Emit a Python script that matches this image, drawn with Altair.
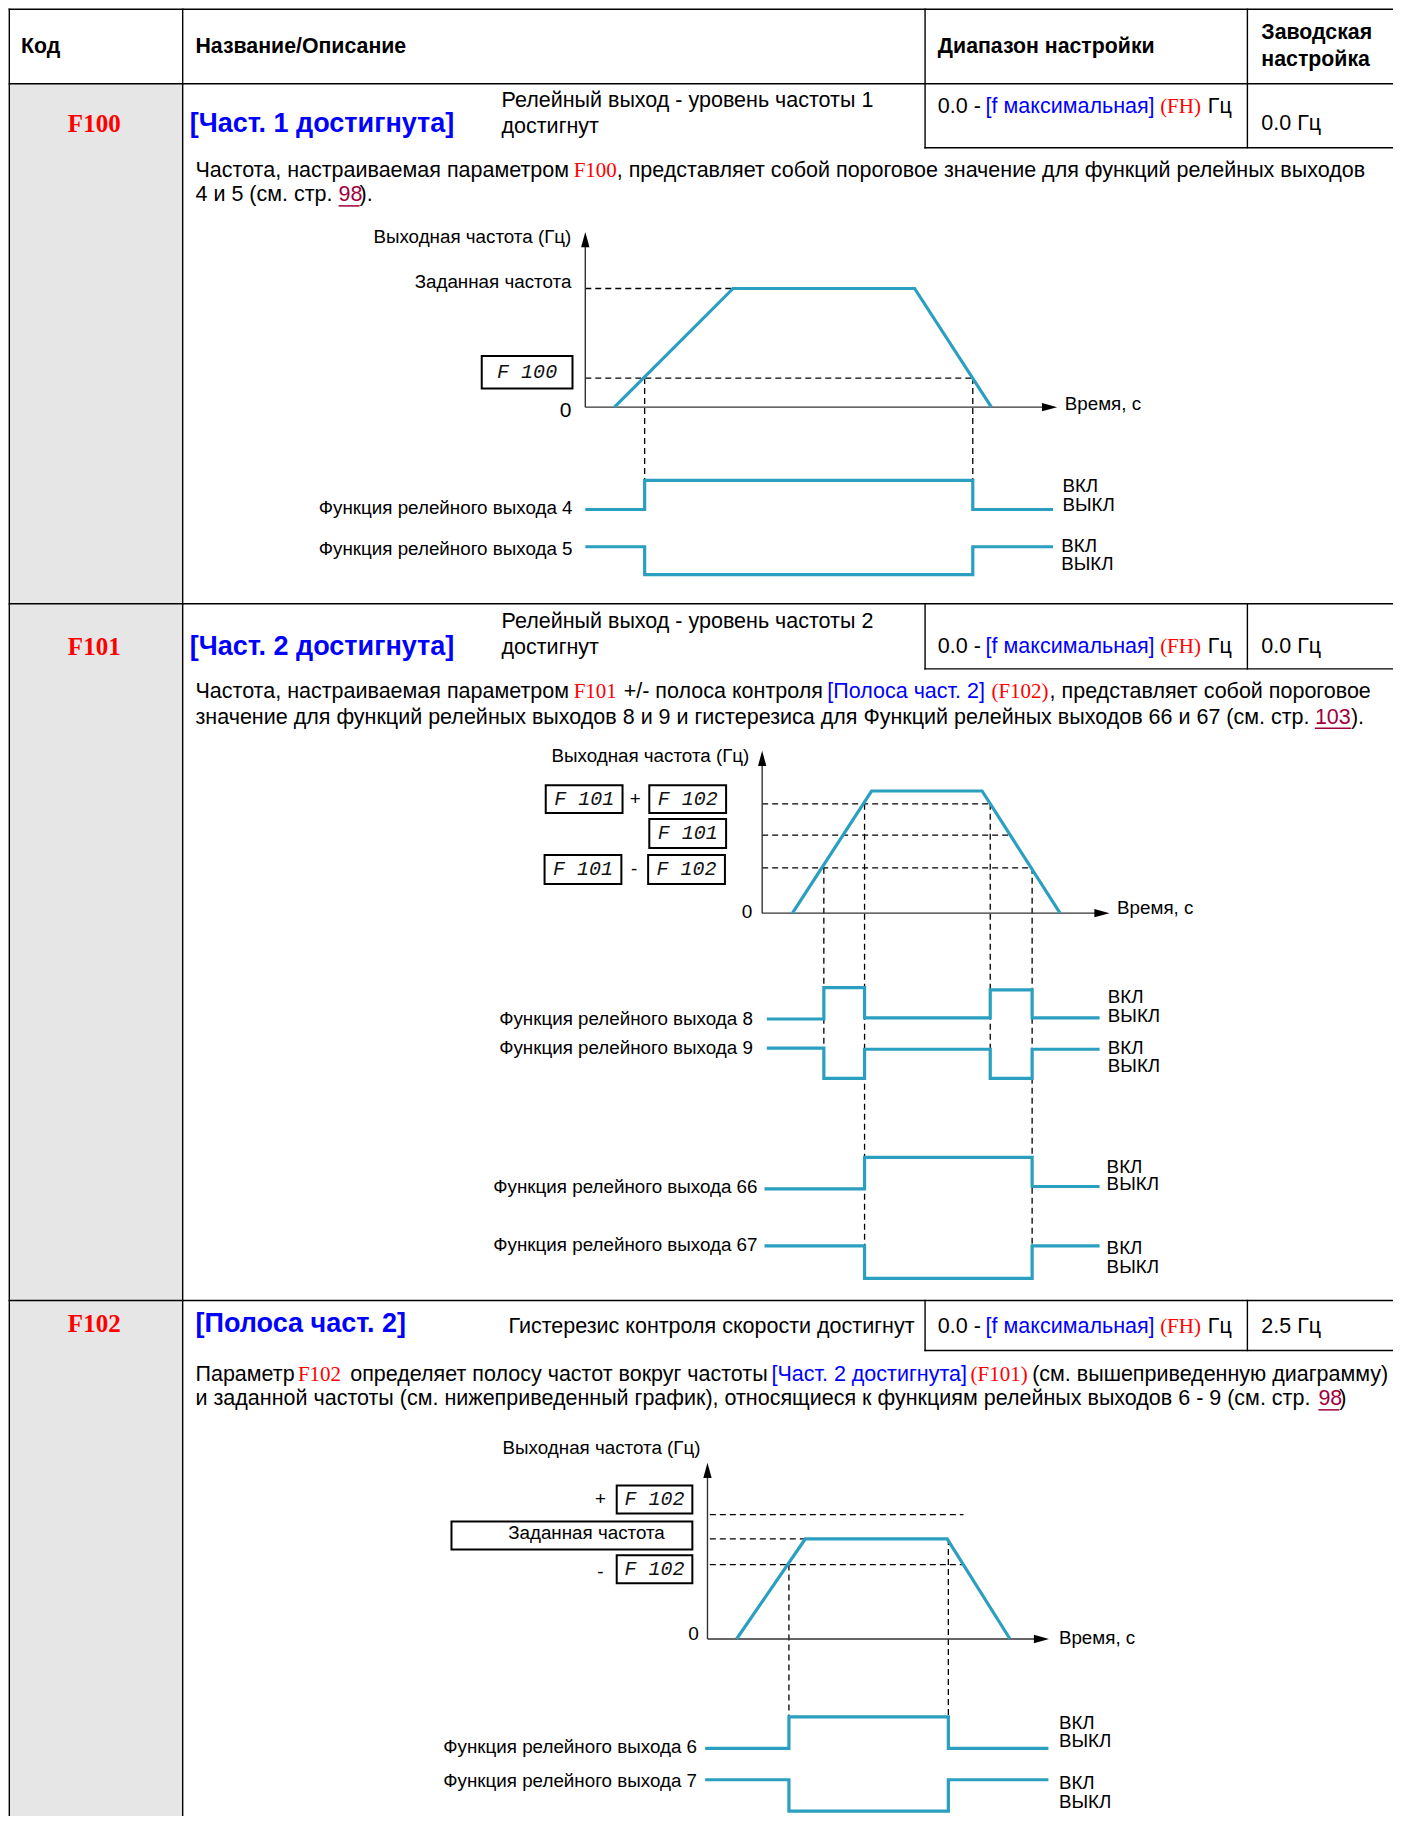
import altair as alt
import pandas as pd

# ------------------------------------------------------------------
# Coordinate space: reference page units (page is 1204 x 1568 units)
# ------------------------------------------------------------------
X_DOM = [6.875, 1197.13]
Y_DOM = [6.877, 1561.15]
W, H = 1385, 1808

TEAL = "#2a9fc0"
BLUE = "#0000ff"
RED = "#ff0000"
LINK = "#a0003c"
GREY = "#e6e6e6"
BLACK = "#000000"

SANS = "Liberation Sans"
SERIF = "Liberation Serif"
MONO = "Liberation Mono"

BODY = 21.5
CHART = 18.8
TITLE = 27
HEAD = 21.3
CODE = 25

# ---------------- table structure -----------------
grey_column = [(8, 72, 157, 1568)]
table_rules = [
    (8, 8, 1204, 8), (8, 72, 1204, 72), (8, 519, 1204, 519), (8, 1118, 1204, 1118),
    (8, 8, 8, 1568), (157, 8, 157, 1568),
    (795, 8, 795, 127), (1072, 8, 1072, 127), (795, 127, 1204, 127),
    (795, 519, 795, 575), (1072, 519, 1072, 575), (795, 575, 1204, 575),
    (795, 1118, 795, 1161), (1072, 1118, 1072, 1161), (795, 1161, 1204, 1161),
]

# ---------------- diagram axes -----------------
axis_rules = [
    (503, 206, 503, 350), (503, 350, 902, 350),      # diagram 1
    (655, 652, 655, 785), (655, 785, 947, 785),      # diagram 2
    (608, 1264, 608, 1409), (608, 1409, 895, 1409),  # diagram 3
]
arrow_up = [(503, 206), (655, 652), (608, 1264)]
arrow_right = [(902, 350), (947, 785), (895, 1409)]

# ---------------- dashed guide lines -----------------
dashed = [
    # diagram 1
    (503, 248, 630, 248), (503, 325, 836, 325),
    (554, 325, 554, 413), (836, 325, 836, 413),
    # diagram 2
    (655, 691, 851, 691), (655, 718, 868, 718), (655, 746, 887, 746),
    (708, 746, 708, 928), (743, 691, 743, 1100),
    (851, 691, 851, 928), (887, 746, 887, 1100),
    # diagram 3
    (610, 1302, 828, 1302), (610, 1323, 692, 1323), (610, 1345, 827, 1345),
    (678, 1345, 678, 1476), (815, 1323, 815, 1476),
]

# ---------------- frequency ramps and relay states -----------------
ramp1_t = [528, 630, 786, 852]
ramp1_f = [350, 248, 248, 350]
relay4_t = [503, 554, 554, 836, 836, 905]
relay4_s = [438, 438, 413, 413, 438, 438]
relay5_t = [503, 554, 554, 836, 836, 905]
relay5_s = [470, 470, 494, 494, 470, 470]

ramp2_t = [681, 749, 844, 911]
ramp2_f = [785, 680, 680, 785]
relay8_t = [659, 708, 708, 743, 743, 851, 851, 887, 887, 945]
relay8_s = [876, 876, 849, 849, 875, 875, 851, 851, 875, 875]
relay9_t = [659, 708, 708, 743, 743, 851, 851, 887, 887, 945]
relay9_s = [901, 901, 927, 927, 902, 902, 927, 927, 902, 902]
relay66_t = [657, 743, 743, 887, 887, 945]
relay66_s = [1022, 1022, 995, 995, 1020, 1020]
relay67_t = [657, 743, 743, 887, 887, 945]
relay67_s = [1071, 1071, 1099, 1099, 1071, 1071]

ramp3_t = [633, 692, 814, 868]
ramp3_f = [1409, 1323, 1323, 1409]
relay6_t = [606, 678, 678, 815, 815, 901]
relay6_s = [1503, 1503, 1476, 1476, 1503, 1503]
relay7_t = [606, 678, 678, 815, 815, 901]
relay7_s = [1530, 1530, 1557, 1557, 1530, 1530]

traces = {
    "ramp1": (ramp1_t, ramp1_f), "r4": (relay4_t, relay4_s), "r5": (relay5_t, relay5_s),
    "ramp2": (ramp2_t, ramp2_f), "r8": (relay8_t, relay8_s), "r9": (relay9_t, relay9_s),
    "r66": (relay66_t, relay66_s), "r67": (relay67_t, relay67_s),
    "ramp3": (ramp3_t, ramp3_f), "r6": (relay6_t, relay6_s), "r7": (relay7_t, relay7_s),
}

# ---------------- parameter display boxes -----------------
boxes = [
    (414, 306, 492, 334),
    (469, 675, 535, 699), (558, 675, 624, 699), (558, 704, 624, 729),
    (468, 735, 534, 760), (557, 735, 623, 760),
    (530, 1277, 595, 1301), (388, 1308, 595, 1332), (530, 1337, 595, 1361),
]
display_text = [
    (453, 320, "F 100"),
    (502, 687, "F 101"), (591, 687, "F 102"), (591, 716, "F 101"),
    (501, 747, "F 101"), (590, 747, "F 102"),
    (562.5, 1289, "F 102"), (562.5, 1349, "F 102"),
]

# ---------------- texts -----------------
# bold sans, left: (x, y, text, colour, size)
bold_texts = [
    (18, 40, "Код", BLACK, HEAD),
    (168, 40, "Название/Описание", BLACK, HEAD),
    (806, 40, "Диапазон настройки", BLACK, HEAD),
    (1084, 28, "Заводская", BLACK, HEAD),
    (1084, 52, "настройка", BLACK, HEAD),
    (163, 107, "[Част. 1 достигнута]", BLUE, TITLE),
    (163, 556, "[Част. 2 достигнута]", BLUE, TITLE),
    (168, 1138, "[Полоса част. 2]", BLUE, TITLE),
]
codes = [(81, 107, "F100"), (81, 556, "F101"), (81, 1138, "F102")]

plain_texts = [
    # row F100
    (431, 87, "Релейный выход - уровень частоты 1", BLACK, BODY),
    (431, 109, "достигнут", BLACK, BODY),
    (806, 92, "0.0 -", BLACK, BODY), (847, 92, "[f максимальная]", BLUE, BODY),
    (1038, 92, "Гц", BLACK, BODY),
    (1084, 107, "0.0 Гц", BLACK, BODY),
    (168, 147, "Частота, настраиваемая параметром", BLACK, BODY),
    (530, 147, ", представляет собой пороговое значение для функций релейных выходов", BLACK, BODY),
    (168, 168, "4 и 5 (см. стр.", BLACK, BODY),
    (291, 168, "98", LINK, BODY), (309, 168, ").", BLACK, BODY),
    # row F101
    (431, 535, "Релейный выход - уровень частоты 2", BLACK, BODY),
    (431, 557, "достигнут", BLACK, BODY),
    (806, 556, "0.0 -", BLACK, BODY), (847, 556, "[f максимальная]", BLUE, BODY),
    (1038, 556, "Гц", BLACK, BODY),
    (1084, 556, "0.0 Гц", BLACK, BODY),
    (168, 595, "Частота, настраиваемая параметром", BLACK, BODY),
    (536, 595, "+/- полоса контроля", BLACK, BODY),
    (711, 595, "[Полоса част. 2]", BLUE, BODY),
    (902, 595, ",  представляет собой  пороговое", BLACK, BODY),
    (168, 617, "значение для функций релейных выходов 8 и 9 и гистерезиса для Функций релейных выходов 66 и 67 (см. стр.", BLACK, BODY),
    (1130, 617, "103", LINK, BODY), (1161, 617, ").", BLACK, BODY),
    # row F102
    (437, 1141, "Гистерезис контроля скорости достигнут", BLACK, BODY),
    (806, 1141, "0.0 -", BLACK, BODY), (847, 1141, "[f максимальная]", BLUE, BODY),
    (1038, 1141, "Гц", BLACK, BODY),
    (1084, 1141, "2.5 Гц", BLACK, BODY),
    (168, 1182, "Параметр", BLACK, BODY),
    (301, 1182, "определяет полосу частот вокруг частоты", BLACK, BODY),
    (663, 1182, "[Част. 2 достигнута]", BLUE, BODY),
    (887, 1182, "(см. вышеприведенную диаграмму)", BLACK, BODY),
    (168, 1203, "и заданной частоты (см. нижеприведенный график), относящиеся к функциям релейных выходов 6 - 9 (см. стр.", BLACK, BODY),
    (1133, 1203, "98", LINK, BODY), (1151, 1203, ")", BLACK, BODY),
    # diagram labels on the right side
    (915, 347, "Время, с", BLACK, CHART),
    (913, 418, "ВКЛ", BLACK, CHART), (913, 434, "ВЫКЛ", BLACK, CHART),
    (912, 469, "ВКЛ", BLACK, CHART), (912, 485, "ВЫКЛ", BLACK, CHART),
    (960, 781, "Время, с", BLACK, CHART),
    (952, 857, "ВКЛ", BLACK, CHART), (952, 873, "ВЫКЛ", BLACK, CHART),
    (952, 901, "ВКЛ", BLACK, CHART), (952, 916, "ВЫКЛ", BLACK, CHART),
    (951, 1003, "ВКЛ", BLACK, CHART), (951, 1018, "ВЫКЛ", BLACK, CHART),
    (951, 1073, "ВКЛ", BLACK, CHART), (951, 1089, "ВЫКЛ", BLACK, CHART),
    (910, 1408, "Время, с", BLACK, CHART),
    (910, 1481, "ВКЛ", BLACK, CHART), (910, 1497, "ВЫКЛ", BLACK, CHART),
    (910, 1533, "ВКЛ", BLACK, CHART), (910, 1549, "ВЫКЛ", BLACK, CHART),
]
link_underlines = [(291, 177, 309, 177), (1130, 626, 1161, 626), (1133, 1212, 1151, 1212)]

serif_texts = [
    (997, 92, "(FH)"), (493, 147, "F100"),
    (997, 556, "(FH)"), (493, 595, "F101"), (852, 595, "(F102)"),
    (997, 1141, "(FH)"), (256, 1182, "F102"), (834, 1182, "(F101)"),
]

right_texts = [
    (491, 204, "Выходная частота (Гц)"), (491, 242, "Заданная частота"),
    (492, 437, "Функция релейного выхода 4"), (492, 472, "Функция релейного выхода 5"),
    (644, 650, "Выходная частота (Гц)"),
    (647, 876, "Функция релейного выхода 8"), (647, 901, "Функция релейного выхода 9"),
    (651, 1020, "Функция релейного выхода 66"), (651, 1070, "Функция релейного выхода 67"),
    (602, 1245, "Выходная частота (Гц)"),
    (599, 1502, "Функция релейного выхода 6"), (599, 1531, "Функция релейного выхода 7"),
]
center_texts = [
    (486, 353, "0", 21), (642, 784, "0", 19), (596, 1405, "0", 19),
    (546, 687, "+", CHART), (545, 747, "-", CHART),
    (516, 1289, "+", CHART), (516, 1351, "-", CHART),
    (504, 1318, "Заданная частота", CHART),
]

# ------------------------------------------------------------------
xs = alt.Scale(domain=X_DOM, nice=False, zero=False)
ys = alt.Scale(domain=Y_DOM, nice=False, zero=False, reverse=True)


def X(f="x"):
    return alt.X(f"{f}:Q", scale=xs, axis=None)


def Y(f="y"):
    return alt.Y(f"{f}:Q", scale=ys, axis=None)


def seg_layer(rows, **mark):
    df = pd.DataFrame(rows, columns=["x", "y", "x2", "y2"])
    return alt.Chart(df).mark_rule(**mark).encode(
        x=X(), y=Y(), x2=alt.X2("x2:Q"), y2=alt.Y2("y2:Q"))


grey = alt.Chart(pd.DataFrame(grey_column, columns=["x", "y", "x2", "y2"])).mark_rect(
    color=GREY, stroke=None).encode(x=X(), y=Y(), x2="x2:Q", y2="y2:Q")

table = seg_layer(table_rules, color=BLACK, strokeWidth=1.4, strokeCap="square")
axes = seg_layer(axis_rules, color="#333333", strokeWidth=1.4)
dash = seg_layer(dashed, color=BLACK, strokeWidth=1.3, strokeDash=[6, 4])
underl = seg_layer(link_underlines, color=LINK, strokeWidth=1.5)

rows = []
for name, (tt, vv) in traces.items():
    for i, (a, b) in enumerate(zip(tt, vv)):
        rows.append({"id": name, "o": i, "x": a, "y": b})
trace_df = pd.DataFrame(rows)
lines = alt.Chart(trace_df).mark_line(
    color=TEAL, strokeWidth=3.2, strokeJoin="miter", strokeCap="butt").encode(
    x=X(), y=Y(), detail="id:N", order="o:Q")

up = alt.Chart(pd.DataFrame(arrow_up, columns=["x", "y"])).mark_point(
    shape="M-0.55,1L0,-1L0.55,1Z", size=230, filled=True, color=BLACK, opacity=1).encode(x=X(), y=Y())
right = alt.Chart(pd.DataFrame(arrow_right, columns=["x", "y"])).mark_point(
    shape="M-1,-0.55L1,0L-1,0.55Z", size=230, filled=True, color=BLACK, opacity=1).encode(x=X(), y=Y())

box_layer = alt.Chart(pd.DataFrame(boxes, columns=["x", "y", "x2", "y2"])).mark_rect(
    fill="white", stroke=BLACK, strokeWidth=2).encode(x=X(), y=Y(), x2="x2:Q", y2="y2:Q")


def txt(rows, cols, font, align="left", weight="normal", style="normal", color=None, size=None):
    df = pd.DataFrame(rows, columns=cols)
    mark = dict(font=font, align=align, baseline="middle", fontWeight=weight, fontStyle=style)
    if color:
        mark["color"] = color
    if size:
        mark["fontSize"] = size
    enc = dict(x=X(), y=Y(), text="t:N")
    if "c" in cols:
        enc["color"] = alt.Color("c:N", scale=None)
    if "s" in cols:
        enc["size"] = alt.Size("s:Q", scale=None)
    return alt.Chart(df).mark_text(**mark).encode(**enc)


t_bold = txt(bold_texts, ["x", "y", "t", "c", "s"], SANS, weight="bold")
t_code = txt(codes, ["x", "y", "t"], SERIF, align="center", weight="bold", color=RED, size=CODE)
t_plain = txt(plain_texts, ["x", "y", "t", "c", "s"], SANS)
t_serif = txt(serif_texts, ["x", "y", "t"], SERIF, color=RED, size=21)
t_right = txt(right_texts, ["x", "y", "t"], SANS, align="right", color=BLACK, size=CHART)
t_center = txt(center_texts, ["x", "y", "t", "s"], SANS, align="center", color=BLACK)
t_disp = txt(display_text, ["x", "y", "t"], MONO, align="center", style="italic", color="#111111", size=20)

chart = alt.layer(
    grey, table, dash, axes, lines, up, right, box_layer, underl,
    t_bold, t_code, t_plain, t_serif, t_right, t_center, t_disp,
).properties(width=W, height=H, padding=0, autosize="none").configure_view(stroke=None)

chart.save("out.html", embed_options={"renderer": "svg", "actions": False})
